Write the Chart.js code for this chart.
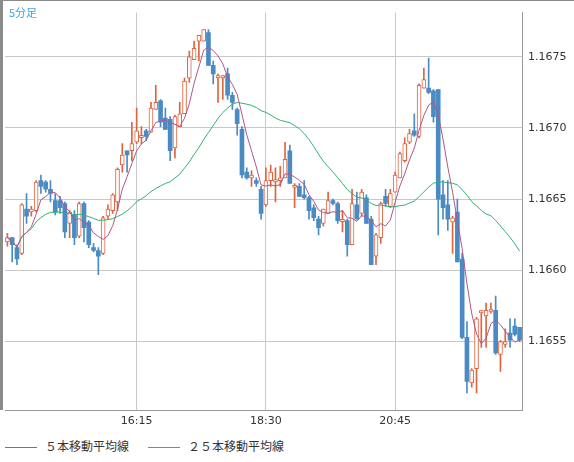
<!DOCTYPE html>
<html>
<head>
<meta charset="utf-8">
<script src="https://cdn.jsdelivr.net/npm/chart.js@4/dist/chart.umd.min.js"></script>
<style>
  html, body { margin: 0; padding: 0; background: #fff; }
  #wrap { position: relative; width: 574px; height: 462px; overflow: hidden; font-family: "DejaVu Sans", sans-serif; }
  #box { position: absolute; left: 0; top: 0; width: 574px; height: 432px; }
  #title { position: absolute; left: 9px; top: 4px; font-size: 11px; color: #3aa6dc; font-family: "Noto Sans CJK JP", sans-serif; }
  #legend { position: absolute; left: 0; top: 437px; font-size: 12px; color: #333; font-family: "Noto Sans CJK JP", sans-serif; }
  .item { position: absolute; top: 0; white-space: nowrap; }
  .item i { display: inline-block; width: 32px; height: 0; border-top: 1px solid; vertical-align: middle; margin-right: 8px; }
</style>
</head>
<body>
<div id="wrap">
  <div id="box"><canvas id="chart" width="574" height="432"></canvas></div>
  <div id="title">5分足</div>
  <div id="legend">
    <span class="item" style="left:5px"><i style="border-color:#b0578a"></i>５本移動平均線</span>
    <span class="item" style="left:148px"><i style="border-color:#2fb36e"></i>２５本移動平均線</span>
  </div>
</div>
<script>
// 5分足 14:00 から
const times = [];
for (let i = 0; i < 108; i++) {
    const m = 14 * 60 + i * 5;
    times.push(Math.floor(m / 60) + ':' + String(m % 60).padStart(2, '0'));
}
const tickTimes = ['16:15', '18:30', '20:45'];
const priceTicks = [1.1655, 1.1660, 1.1665, 1.1670, 1.1675];

const opens = [1.16620,1.16623,1.16616,1.16612,1.16643,1.16641,1.16642,1.16663,1.16662,1.16657,1.16649,1.16649,1.16647,1.16633,1.16639,1.16624,1.16647,1.16634,1.16616,1.16614,
 1.16612,1.16638,1.16642,1.16648,1.16674,1.16684,1.16684,1.16690,1.16694,1.16698,1.16697,1.16713,1.16719,1.16707,1.16706,1.16686,1.16701,1.16710,1.16735,1.16748,
 1.16761,1.16761,1.16767,1.16744,1.16736,1.16736,1.16738,1.16723,1.16713,1.16699,1.16669,1.16665,1.16663,1.16657,1.16646,1.16663,1.16663,1.16663,1.16665,1.16684,
 1.16659,1.16659,1.16653,1.16651,1.16644,1.16636,1.16633,1.16640,1.16649,1.16647,1.16635,1.16635,1.16618,1.16646,1.16640,1.16651,1.16636,1.16610,1.16623,1.16652,
 1.16645,1.16655,1.16665,1.16677,1.16690,1.16698,1.16694,1.16728,1.16728,1.16726,1.16727,1.16653,1.16646,1.16634,1.16641,1.16608,1.16553,1.16521,1.16531,1.16571,
 1.16568,1.16572,1.16572,1.16541,1.16548,1.16556,1.16561,1.16560];
const highs = [1.16626,1.16623,1.16618,1.16647,1.16654,1.16645,1.16663,1.16667,1.16663,1.16663,1.16654,1.16652,1.16648,1.16642,1.16642,1.16648,1.16648,1.16635,1.16619,1.16616,
 1.16638,1.16646,1.16654,1.16672,1.16689,1.16684,1.16704,1.16714,1.16701,1.16699,1.16718,1.16730,1.16720,1.16714,1.16708,1.16709,1.16718,1.16735,1.16754,1.16761,
 1.16765,1.16769,1.16769,1.16747,1.16738,1.16737,1.16742,1.16725,1.16714,1.16701,1.16672,1.16670,1.16665,1.16659,1.16672,1.16674,1.16672,1.16673,1.16690,1.16688,
 1.16661,1.16661,1.16663,1.16652,1.16646,1.16638,1.16643,1.16655,1.16650,1.16648,1.16642,1.16636,1.16657,1.16655,1.16657,1.16653,1.16638,1.16626,1.16648,1.16657,
 1.16657,1.16669,1.16683,1.16693,1.16699,1.16710,1.16731,1.16742,1.16749,1.16727,1.16727,1.16663,1.16663,1.16638,1.16650,1.16612,1.16564,1.16531,1.16567,1.16572,
 1.16577,1.16577,1.16582,1.16551,1.16559,1.16566,1.16566,1.16560];
const lows = [1.16617,1.16606,1.16604,1.16611,1.16633,1.16638,1.16641,1.16654,1.16655,1.16648,1.16639,1.16640,1.16623,1.16623,1.16618,1.16623,1.16620,1.16616,1.16613,1.16597,
 1.16611,1.16636,1.16640,1.16642,1.16669,1.16669,1.16677,1.16689,1.16689,1.16691,1.16697,1.16713,1.16701,1.16699,1.16677,1.16679,1.16701,1.16710,1.16732,1.16748,
 1.16747,1.16761,1.16744,1.16731,1.16718,1.16720,1.16720,1.16713,1.16695,1.16665,1.16664,1.16659,1.16659,1.16636,1.16645,1.16659,1.16648,1.16659,1.16665,1.16661,
 1.16644,1.16652,1.16650,1.16636,1.16635,1.16625,1.16631,1.16640,1.16646,1.16633,1.16627,1.16610,1.16618,1.16636,1.16638,1.16633,1.16604,1.16604,1.16619,1.16645,
 1.16644,1.16655,1.16665,1.16676,1.16689,1.16694,1.16693,1.16728,1.16724,1.16704,1.16625,1.16636,1.16628,1.16612,1.16606,1.16552,1.16514,1.16518,1.16514,1.16546,
 1.16546,1.16570,1.16541,1.16529,1.16546,1.16546,1.16554,1.16550];
const closes = [1.16623,1.16618,1.16608,1.16646,1.16638,1.16643,1.16662,1.16659,1.16657,1.16654,1.16641,1.16644,1.16627,1.16641,1.16623,1.16647,1.16630,1.16618,1.16614,1.16610,
 1.16637,1.16643,1.16653,1.16671,1.16681,1.16681,1.16689,1.16698,1.16695,1.16694,1.16714,1.16718,1.16704,1.16699,1.16684,1.16708,1.16710,1.16733,1.16750,1.16756,
 1.16765,1.16769,1.16744,1.16738,1.16737,1.16737,1.16723,1.16718,1.16703,1.16667,1.16665,1.16667,1.16661,1.16640,1.16663,1.16669,1.16664,1.16665,1.16678,1.16661,
 1.16660,1.16652,1.16651,1.16642,1.16637,1.16630,1.16643,1.16649,1.16647,1.16635,1.16636,1.16618,1.16647,1.16636,1.16655,1.16633,1.16604,1.16625,1.16647,1.16647,
 1.16654,1.16667,1.16682,1.16689,1.16696,1.16695,1.16730,1.16734,1.16725,1.16708,1.16650,1.16644,1.16636,1.16637,1.16606,1.16553,1.16522,1.16530,1.16566,1.16572,
 1.16572,1.16573,1.16542,1.16550,1.16550,1.16551,1.16555,1.16551];

const UP = '#de6440', DOWN = '#4a8bc3';

function movingAverage(src, n) {
    return src.map((_, i) => {
        const part = src.slice(Math.max(0, i - n + 1), i + 1);
        return part.reduce((a, b) => a + b, 0) / part.length;
    });
}

const isUp = opens.map((o, i) => closes[i] >= o);
const wicks = lows.map((l, i) => [l, highs[i]]);
const bodies = opens.map((o, i) => {
    // 同値のときは細い線で見えるように
    if (Math.abs(o - closes[i]) < 0.000015) return [o - 0.000008, o + 0.000008];
    return [o, closes[i]];
});

const labelSet = new Set(tickTimes);

new Chart(document.getElementById('chart'), {
    data: {
        labels: times,
        datasets: [
            {
                type: 'line', data: movingAverage(closes, 5), borderColor: '#b0578a',
                borderWidth: 1, pointRadius: 0, tension: 0, order: 0
            },
            {
                type: 'line', data: movingAverage(closes, 25), borderColor: '#2fb36e',
                borderWidth: 1, pointRadius: 0, tension: 0, order: 0
            },
            {
                type: 'bar', data: bodies, grouped: false, barThickness: 4, order: 1,
                backgroundColor: isUp.map(u => u ? '#ffffff' : DOWN),
                borderColor: isUp.map(u => u ? UP : DOWN),
                borderWidth: isUp.map(u => u ? 1 : 0),
                borderSkipped: false
            },
            {
                type: 'bar', data: wicks, grouped: false, barThickness: 1, order: 2,
                backgroundColor: isUp.map(u => u ? UP : DOWN)
            }
        ]
    },
    options: {
        responsive: false,
        animation: false,
        layout: { padding: { left: 5, top: 0, right: 0, bottom: 0 } },
        plugins: { legend: { display: false }, tooltip: { enabled: false } },
        scales: {
            x: {
                type: 'category',
                offset: true,
                afterFit: s => { s.height = 22; },
                grid: {
                    offset: false,
                    color: c => (c.tick && labelSet.has(times[c.tick.value])) ? '#c8c8c8' : 'rgba(0,0,0,0)',
                    drawTicks: false
                },
                border: { color: '#999' },
                ticks: {
                    autoSkip: false, maxRotation: 0, padding: 5,
                    color: '#333', font: { family: 'DejaVu Sans', size: 11 },
                    callback: (v, i) => labelSet.has(times[i]) ? times[i] : ''
                }
            },
            y: {
                position: 'right',
                min: 1.16502, max: 1.16781,
                afterFit: s => { s.width = 52; },
                afterBuildTicks: s => { s.ticks = priceTicks.map(v => ({ value: v })); },
                grid: { color: '#c8c8c8', drawTicks: false },
                border: { color: '#999' },
                ticks: {
                    padding: 6, color: '#333', font: { family: 'DejaVu Sans', size: 11 },
                    callback: v => v.toFixed(4)
                }
            }
        }
    },
    plugins: [{
        id: 'frame',
        beforeDraw(chart) {
            const ctx = chart.ctx;
            ctx.save();
            ctx.fillStyle = '#fff';
            ctx.fillRect(0, 0, chart.width, chart.height);
            ctx.fillStyle = '#8a8a8a';
            ctx.fillRect(0, 0, 3, chart.chartArea.bottom);
            ctx.fillRect(0, 0, chart.width, 1);
            ctx.restore();
        }
    }]
});
</script>
</body>
</html>
